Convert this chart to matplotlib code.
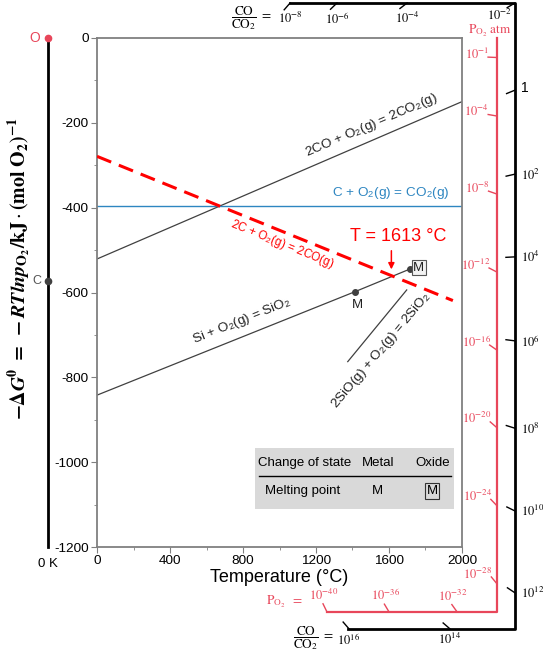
import numpy as np
import matplotlib.pyplot as plt
from matplotlib.patches import Rectangle

plt.rcParams['font.family'] = ['Liberation Sans', 'DejaVu Sans']
plt.rcParams['mathtext.fontset'] = 'stix'
plt.rcParams['axes.unicode_minus'] = False

# reaction lines, T in degC, -dG in kJ/mol O2
temp_range = [0, 2000]
co_co2_G = [-521, -150]
c_co2_G = [-395, -395]
c_co_T = [0, 1950]
c_co_G = [-279, -619]
si_T = [0, 1414, 1713]
si_G = [-842, -598, -545]
sio_T = [1374, 1697]
sio_G = [-763, -594]

# nomogram scales (in the chart's data units)
zero_K = -268.5
origin_O = (zero_K, 0)
origin_C = (zero_K, -573)

po2_line_T = 2192
po2_bottom_G = -1353
po2_start_T = 1260
po2_side_labels = ['10^{-1}', '10^{-4}', '10^{-8}', '10^{-12}', '10^{-16}', '10^{-20}', '10^{-24}', '10^{-28}']
po2_side_G = [-46, -184, -368, -552, -736, -919, -1103, -1287]
po2_bottom_labels = ['10^{-40}', '10^{-36}', '10^{-32}']
po2_bottom_T = [1260, 1600, 1973]

co_line_T = 2290
co_top_G = 82.5
co_bottom_G = -1393
co_top_start_T = 1058
co_bottom_start_T = 1375
co_top_labels = ['10^{-8}', '10^{-6}', '10^{-4}', '10^{-2}']
co_top_T = [1058, 1315, 1699, 2290]
co_side_labels = ['1', '10^{2}', '10^{4}', '10^{6}', '10^{8}', '10^{10}', '10^{12}']
co_side_G = [-123, -321, -516, -714, -920, -1115, -1308]
co_bottom_labels = ['10^{16}', '10^{14}']
co_bottom_T = [1381, 1934]

red = '#ff0000'
pink = '#e8465a'
grey = '#404040'
blue = '#2e86c1'

fig = plt.figure(figsize=(5.43, 6.55), dpi=100)
ax = fig.add_axes([97/543, 1-547/655, 365/543, 509/655])
ax.set_xlim(0, 2000)
ax.set_ylim(-1200, 0)
ax.set_xticks(np.arange(0, 2001, 400))
ax.set_xticks(np.arange(0, 2001, 200), minor=True)
ax.set_yticks(np.arange(-1200, 1, 200))
ax.set_yticks(np.arange(-1200, 1, 100), minor=True)
for s in ax.spines.values():
    s.set_color('#808080')
    s.set_linewidth(1.3)
ax.tick_params(which='both', direction='out', color='#808080', labelsize=9.7, pad=2)
ax.tick_params(which='major', length=4)
ax.tick_params(which='minor', length=2)
ax.set_xlabel('Temperature (°C)', fontsize=13, labelpad=1)

ax.plot(temp_range, co_co2_G, color=grey, lw=0.9)
ax.plot(temp_range, c_co2_G, color=blue, lw=1.0)
ax.plot(si_T, si_G, color=grey, lw=0.9)
ax.plot(si_T[1:], si_G[1:], 'o', color=grey, ms=4)
ax.plot(sio_T, sio_G, color=grey, lw=0.9)
ax.plot(c_co_T, c_co_G, color=red, lw=2.2, ls=(0, (5, 2.7)), zorder=5)

ax.text(1507, -205, '2CO + O$_\\mathregular{2}$(g) = 2CO$_\\mathregular{2}$(g)', rotation=23.3,
        ha='center', va='center', fontsize=9.7, color='#222222')
ax.text(1610, -365, 'C + O$_\\mathregular{2}$(g) = CO$_\\mathregular{2}$(g)', ha='center', va='center',
        fontsize=9.7, color=blue)
ax.text(1015, -486, '2C + O$_\\mathregular{2}$(g) = 2CO(g)', rotation=-22, ha='center', va='center',
        fontsize=8.5, color=red)
ax.text(795, -668, 'Si + O$_\\mathregular{2}$(g) = SiO$_\\mathregular{2}$', rotation=21.9,
        ha='center', va='center', fontsize=9.7, color='#222222')
ax.text(1560, -736, '2SiO(g) + O$_\\mathregular{2}$(g) = 2SiO$_\\mathregular{2}$', rotation=50,
        ha='center', va='center', fontsize=9.7, color='#222222')
ax.text(1425, -630, 'M', ha='center', va='center', fontsize=9.5, color='#222222')
ax.text(1764, -542, 'M', ha='center', va='center', fontsize=9.5, color='#222222',
        bbox=dict(boxstyle='square,pad=0.12', fc='#f2f2f2', ec='#555555', lw=0.8))
ax.text(1649, -469, 'T = 1613 °C', ha='center', va='center', fontsize=13, color=red)
ax.annotate('', xy=(1613, -552), xytext=(1613, -495),
            arrowprops=dict(arrowstyle='-|>', color=red, lw=1.1, mutation_scale=9))

# legend table
ax.add_patch(Rectangle((866, -1110), 1090, 143, fc='#d9d9d9', ec='none', zorder=1))
ax.plot([888, 1940], [-1033, -1033], color='black', lw=1, zorder=2)
ax.text(1140, -1002, 'Change of state', ha='center', va='center', fontsize=9.5)
ax.text(1540, -1002, 'Metal', ha='center', va='center', fontsize=9.5)
ax.text(1841, -1002, 'Oxide', ha='center', va='center', fontsize=9.5)
ax.text(1129, -1068, 'Melting point', ha='center', va='center', fontsize=9.5)
ax.text(1534, -1068, 'M', ha='center', va='center', fontsize=9.5)
ax.text(1836, -1068, 'M', ha='center', va='center', fontsize=9.5,
        bbox=dict(boxstyle='square,pad=0.12', fc='none', ec='#333333', lw=0.8))

# left 0 K line with O and C points
ax.plot([zero_K, zero_K], [0, -1200], color='black', lw=2, clip_on=False)
ax.plot(*origin_O, 'o', color=pink, ms=4.5, clip_on=False, zorder=6)
ax.plot(*origin_C, 'o', color=grey, ms=4.5, clip_on=False, zorder=6)
ax.text(zero_K - 70, 0, 'O', color=pink, fontsize=10, ha='center', va='center')
ax.text(zero_K - 62, -573, 'C', color='#555555', fontsize=9, ha='center', va='center')
ax.text(zero_K, -1240, '0 K', fontsize=9.5, ha='center', va='center')

fig.text(19/543, 1-268/655,
         r'$\mathbf{-\Delta}\mathbfit{G}^{\mathbf{0}}\mathbf{\ =\ -}\mathbfit{RTlnp}_{\mathbf{O_2}}'
         r'\mathbf{/kJ}\cdot\mathbf{(mol\ O_2)^{-1}}$',
         rotation=90, ha='center', va='center', fontsize=14.3)


def nomo_tick(T, G, origin, color, length=9):
    p = ax.transData.transform((T, G))
    o = ax.transData.transform(origin)
    d = (o - p) / np.hypot(*(o - p))
    q = ax.transData.inverted().transform(p + d * length)
    ax.plot([T, q[0]], [G, q[1]], color=color, lw=1, clip_on=False)
    return q


def label(txt, xy, dx, dy, color, ha, va, size=9):
    ax.annotate(txt, xy=xy, xytext=(dx, dy), textcoords='offset pixels', color=color,
                ha=ha, va=va, fontsize=size, annotation_clip=False)


# P_O2 scale
ax.plot([po2_start_T, po2_line_T, po2_line_T], [po2_bottom_G, po2_bottom_G, 0],
        color=pink, lw=1.6, clip_on=False)
for lab, g in zip(po2_side_labels, po2_side_G):
    q = nomo_tick(po2_line_T, g, origin_O, pink)
    label('$' + lab + '$', q, 1, 3, pink, 'right', 'center')
for lab, t in zip(po2_bottom_labels, po2_bottom_T):
    q = nomo_tick(t, po2_bottom_G, origin_O, pink)
    label('$' + lab + '$', q, 1, 1, pink, 'center', 'bottom')
label(r'$\mathrm{P_{O_2}\ atm}$', (po2_line_T, 0), -7, -1, pink, 'center', 'bottom', 9.5)
label(r'$\mathrm{P_{O_2}\ \ =}$', (po2_start_T, po2_bottom_G), -42, 10, pink, 'center', 'center', 9.5)

# CO/CO2 scale
ax.plot([co_top_start_T, co_line_T, co_line_T, co_bottom_start_T],
        [co_top_G, co_top_G, co_bottom_G, co_bottom_G], color='black', lw=2, clip_on=False)
for i, (lab, t) in enumerate(zip(co_top_labels, co_top_T)):
    nomo_tick(t, co_top_G, origin_C, 'black')
    if i == len(co_top_T) - 1:
        label('$' + lab + '$', (t, co_top_G), -3, -5, 'black', 'right', 'top')
    else:
        label('$' + lab + '$', (t, co_top_G), 0, -8, 'black', 'center', 'top')
for lab, g in zip(co_side_labels, co_side_G):
    nomo_tick(co_line_T, g, origin_C, 'black')
    if lab == '1':
        label(lab, (co_line_T, g), 6, 2, 'black', 'left', 'center', 10)
    else:
        label('$' + lab + '$', (co_line_T, g), 6, -1, 'black', 'left', 'center')
for lab, t in zip(co_bottom_labels, co_bottom_T):
    nomo_tick(t, co_bottom_G, origin_C, 'black')
    label('$' + lab + '$', (t, co_bottom_G), 0, -3, 'black', 'center', 'top')
frac = r'$\dfrac{\mathrm{CO}}{\mathrm{CO_2}}\ =$'
label(frac, (844, 47), 0, 0, 'black', 'center', 'center', 9.5)
label(frac, (1184, -1415), 0, 0, 'black', 'center', 'center', 9.5)

fig.savefig('out.png', dpi=100)
